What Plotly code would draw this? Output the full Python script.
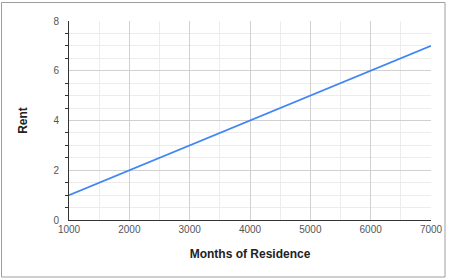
import plotly.graph_objects as go

months = [1000, 2000, 3000, 4000, 5000, 6000, 7000]
rent = [1, 2, 3, 4, 5, 6, 7]

W, H = 450, 280
L, R, T, B = 69, 19, 21, 60
pw, ph = W - L - R, H - T - B

def px(x):
    return (x - L) / pw

def py(y):
    return (H - B - y) / ph

fig = go.Figure()
fig.add_trace(go.Scatter(x=months, y=rent, mode="lines",
                         line=dict(color="#4285F4", width=1.8), hoverinfo="skip"))

font = "Liberation Sans, Arial, sans-serif"
fig.update_layout(
    width=W, height=H,
    margin=dict(l=L, r=R, t=T, b=B, autoexpand=False),
    paper_bgcolor="white", plot_bgcolor="white",
    showlegend=False,
    font=dict(family=font, size=10, color="#555"),
    xaxis=dict(
        range=[1000, 7000], dtick=1000, tick0=1000, automargin=False,
        showgrid=True, gridcolor="#d0d0d0", gridwidth=1,
        minor=dict(dtick=500, showgrid=True, gridcolor="#ececec", ticks=""),
        showline=True, linecolor="#333", linewidth=1,
        zeroline=False, ticks="",
        tickfont=dict(size=10, color="#555"),
        title=dict(text="Months of Residence", standoff=15,
                   font=dict(size=12, color="#222", family=font, weight="bold")),
    ),
    yaxis=dict(
        range=[0, 8], dtick=2, automargin=False,
        showgrid=True, gridcolor="#d0d0d0", gridwidth=1,
        minor=dict(dtick=0.5, showgrid=True, gridcolor="#ececec",
                   ticks="outside", ticklen=3, tickcolor="#333", tickwidth=1),
        showline=True, linecolor="#333", linewidth=1,
        zeroline=False, ticks="", ticklabelstandoff=7,
        tickfont=dict(size=10, color="#555"),
        title=dict(text="Rent", standoff=23,
                   font=dict(size=12, color="#222", family=font, weight="bold")),
    ),
    shapes=[dict(type="rect", xref="paper", yref="paper",
                 x0=px(1.5), x1=px(445), y0=py(277), y1=py(2.5),
                 line=dict(color="#9e9e9e", width=1), layer="below")],
)

fig.write_html("out.html")
